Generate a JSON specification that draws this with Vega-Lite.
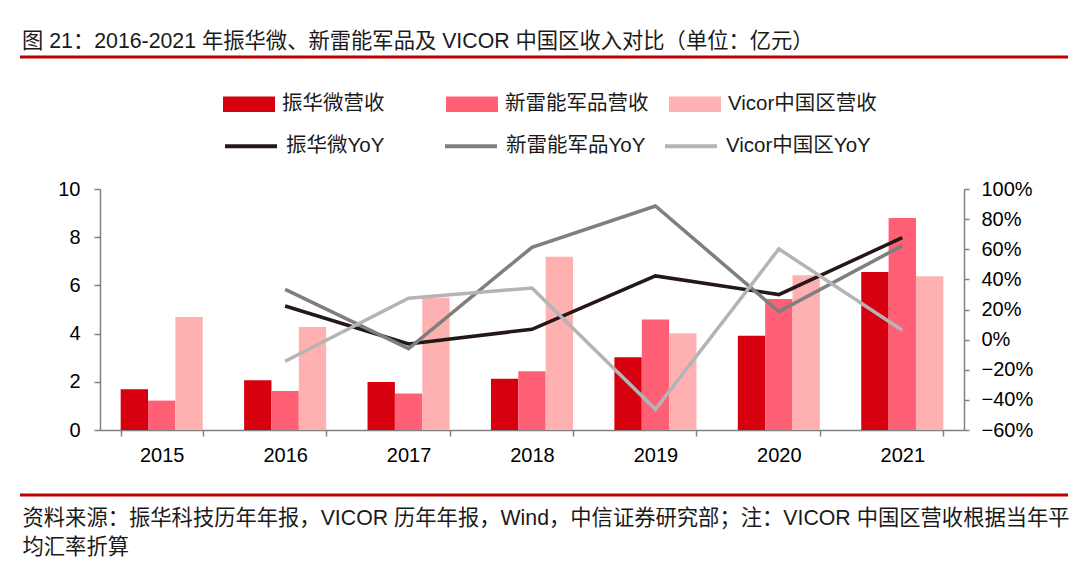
{
  "$schema": "https://vega.github.io/schema/vega-lite/v6.json",
  "width": 864,
  "height": 241,
  "autosize": {"type": "none"},
  "padding": {"left": 100, "top": 189, "right": 116, "bottom": 145},
  "background": "white",
  "config": {
    "view": {"stroke": null},
    "font": "Liberation Sans, Noto Sans CJK SC, sans-serif",
    "axis": {"labelFont": "Liberation Sans, Noto Sans CJK SC, sans-serif", "labelColor": "#000000", "domainColor": "#808080", "tickColor": "#808080", "domainWidth": 1.5, "tickWidth": 1.5, "grid": false},
    "legend": {"labelFont": "Liberation Sans, Noto Sans CJK SC, sans-serif"}
  },
  "title": {
    "text": "图 21：2016-2021 年振华微、新雷能军品及 VICOR 中国区收入对比（单位：亿元）",
    "anchor": "start",
    "frame": "group",
    "dx": -78,
    "offset": 3,
    "fontSize": 21.3,
    "fontWeight": "normal",
    "color": "#1a1a1a",
    "font": "Liberation Sans, Noto Sans CJK SC, sans-serif"
  },
  "datasets": {
    "rev": [
      {"year": "2015", "series": "振华微营收", "value": 1.69},
      {"year": "2015", "series": "新雷能军品营收", "value": 1.22},
      {"year": "2015", "series": "Vicor中国区营收", "value": 4.69},
      {"year": "2016", "series": "振华微营收", "value": 2.06},
      {"year": "2016", "series": "新雷能军品营收", "value": 1.62},
      {"year": "2016", "series": "Vicor中国区营收", "value": 4.27},
      {"year": "2017", "series": "振华微营收", "value": 1.99},
      {"year": "2017", "series": "新雷能军品营收", "value": 1.51},
      {"year": "2017", "series": "Vicor中国区营收", "value": 5.49},
      {"year": "2018", "series": "振华微营收", "value": 2.13},
      {"year": "2018", "series": "新雷能军品营收", "value": 2.44},
      {"year": "2018", "series": "Vicor中国区营收", "value": 7.19},
      {"year": "2019", "series": "振华微营收", "value": 3.02},
      {"year": "2019", "series": "新雷能军品营收", "value": 4.58},
      {"year": "2019", "series": "Vicor中国区营收", "value": 4.01},
      {"year": "2020", "series": "振华微营收", "value": 3.91},
      {"year": "2020", "series": "新雷能军品营收", "value": 5.44},
      {"year": "2020", "series": "Vicor中国区营收", "value": 6.42},
      {"year": "2021", "series": "振华微营收", "value": 6.56},
      {"year": "2021", "series": "新雷能军品营收", "value": 8.8},
      {"year": "2021", "series": "Vicor中国区营收", "value": 6.38}
    ],
    "yoy": [
      {"year": "2016", "series": "振华微YoY", "yoy": 0.223},
      {"year": "2017", "series": "振华微YoY", "yoy": -0.029},
      {"year": "2018", "series": "振华微YoY", "yoy": 0.069},
      {"year": "2019", "series": "振华微YoY", "yoy": 0.423},
      {"year": "2020", "series": "振华微YoY", "yoy": 0.299},
      {"year": "2021", "series": "振华微YoY", "yoy": 0.677},
      {"year": "2016", "series": "新雷能军品YoY", "yoy": 0.334},
      {"year": "2017", "series": "新雷能军品YoY", "yoy": -0.06},
      {"year": "2018", "series": "新雷能军品YoY", "yoy": 0.613},
      {"year": "2019", "series": "新雷能军品YoY", "yoy": 0.887},
      {"year": "2020", "series": "新雷能军品YoY", "yoy": 0.186},
      {"year": "2021", "series": "新雷能军品YoY", "yoy": 0.624},
      {"year": "2016", "series": "Vicor中国区YoY", "yoy": -0.144},
      {"year": "2017", "series": "Vicor中国区YoY", "yoy": 0.275},
      {"year": "2018", "series": "Vicor中国区YoY", "yoy": 0.343},
      {"year": "2019", "series": "Vicor中国区YoY", "yoy": -0.463},
      {"year": "2020", "series": "Vicor中国区YoY", "yoy": 0.602},
      {"year": "2021", "series": "Vicor中国区YoY", "yoy": 0.062}
    ],
    "sep": [{"name": "top"}]
  },
  "layer": [
    {
      "data": {"name": "rev"},
      "mark": {"type": "bar"},
      "encoding": {
        "x": {
          "field": "year", "type": "nominal",
          "scale": {"paddingInner": 0.335, "paddingOuter": 0.1675},
          "axis": {
            "labelAngle": 0, "labelFontSize": 20, "labelPadding": 9, "tickSize": 6, "tickBand": "extent",
            "title": ["资料来源：振华科技历年年报，VICOR 历年年报，Wind，中信证券研究部；注：VICOR 中国区营收根据当年平", "均汇率折算"],
            "titleFontSize": 21.3, "titleFontWeight": "normal", "titleColor": "#1a1a1a",
            "titleAnchor": "start", "titleAlign": "left", "titleBaseline": "alphabetic",
            "titleX": -78, "titleY": 94, "titleLineHeight": 29,
            "titleFont": "Liberation Sans, Noto Sans CJK SC, sans-serif"
          }
        },
        "xOffset": {"field": "series", "type": "nominal", "sort": ["振华微营收", "新雷能军品营收", "Vicor中国区营收"], "scale": {"paddingInner": 0, "paddingOuter": 0}},
        "y": {
          "field": "value", "type": "quantitative",
          "scale": {"domain": [0, 10], "nice": false},
          "axis": {"values": [0, 2, 4, 6, 8, 10], "title": null, "labelFontSize": 20, "labelPadding": 14, "tickSize": 6, "orient": "left"}
        },
        "color": {
          "field": "series", "type": "nominal",
          "sort": ["振华微营收", "新雷能军品营收", "Vicor中国区营收"],
          "scale": {"domain": ["振华微营收", "新雷能军品营收", "Vicor中国区营收"], "range": ["#d7000f", "#ff6076", "#ffb1b2"]},
          "legend": {
            "orient": "none", "legendX": 123, "legendY": -111, "direction": "horizontal", "columns": 3,
            "title": null, "symbolType": "M-1,-0.3H1V0.3H-1Z", "symbolSize": 2704, "symbolStrokeWidth": 0,
            "labelFontSize": 20.5, "labelOffset": 7, "labelColor": "#1a1a1a", "gridAlign": "all", "columnPadding": 15, "labelLimit": 300
          }
        }
      }
    },
    {
      "data": {"name": "yoy"},
      "mark": {"type": "line", "strokeWidth": 3.5},
      "encoding": {
        "x": {"field": "year", "type": "nominal"},
        "y": {
          "field": "yoy", "type": "quantitative",
          "scale": {"domain": [-0.6, 1], "nice": false},
          "axis": {"orient": "right", "values": [-0.6, -0.4, -0.2, 0, 0.2, 0.4, 0.6, 0.8, 1], "format": ".0%", "title": null, "labelFontSize": 20, "labelPadding": 12, "tickSize": 5}
        },
        "stroke": {
          "field": "series", "type": "nominal",
          "sort": ["振华微YoY", "新雷能军品YoY", "Vicor中国区YoY"],
          "scale": {"domain": ["振华微YoY", "新雷能军品YoY", "Vicor中国区YoY"], "range": ["#231815", "#7f7f7f", "#b4b4b4"]},
          "legend": {
            "orient": "none", "legendX": 123, "legendY": -71, "direction": "horizontal", "columns": 3,
            "title": null, "symbolType": "M-1,0H1", "symbolSize": 2704, "symbolStrokeWidth": 4,
            "labelFontSize": 20.5, "labelOffset": 7, "labelColor": "#1a1a1a", "gridAlign": "all", "columnPadding": 6, "labelLimit": 300
          }
        }
      }
    },
    {
      "data": {"name": "sep"},
      "mark": {"type": "rule", "color": "#c00000", "strokeWidth": 3},
      "encoding": {"x": {"value": -80}, "x2": {"value": 968}, "y": {"value": -132}}
    },
    {
      "data": {"name": "sep"},
      "mark": {"type": "rule", "color": "#c00000", "strokeWidth": 3},
      "encoding": {"x": {"value": -80}, "x2": {"value": 968}, "y": {"value": 306}}
    }
  ],
  "resolve": {"scale": {"y": "independent"}}
}
